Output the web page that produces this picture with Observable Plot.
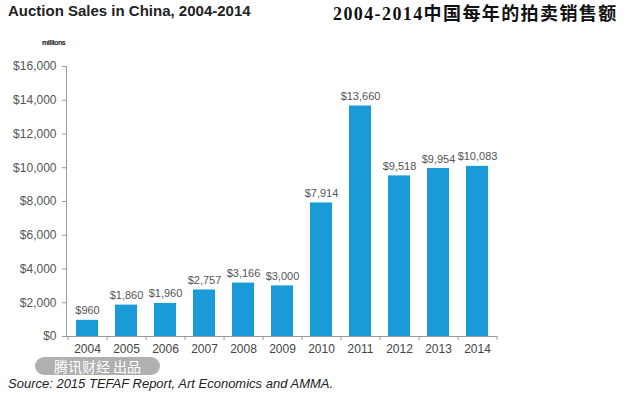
<!DOCTYPE html>
<html>
<head>
<meta charset="utf-8">
<script src="https://cdn.jsdelivr.net/npm/d3@7"></script>
<script src="https://cdn.jsdelivr.net/npm/@observablehq/plot@0.6"></script>
<style>
  html, body { margin: 0; padding: 0; background: #fff; }
  #wrap { position: relative; width: 644px; height: 398px; overflow: hidden; font-family: "Liberation Sans", Arial, sans-serif; }
  #title { position: absolute; left: 8px; top: 2px; font-size: 15px; font-weight: bold; color: #222; }
  #cntitle { position: absolute; left: 333px; top: -1px; font-size: 18px; font-weight: bold; color: #111; letter-spacing: 1.4px; font-family: "Liberation Serif", "Noto Sans CJK SC", serif; }
  #units { position: absolute; left: 42px; top: 39px; font-size: 7px; font-weight: bold; color: #111; letter-spacing: -0.4px; }
  #source { position: absolute; left: 8px; top: 376px; font-size: 13px; line-height: 15px; font-style: italic; color: #222; }
  #wm { position: absolute; left: 35px; top: 357px; width: 125px; height: 18px; border-radius: 9px; background: rgba(150,150,150,0.75); color: #fff; font-family: "Noto Sans CJK SC", sans-serif; font-size: 14px; line-height: 18px; text-align: center; }
  #chart { position: absolute; left: 0; top: 0; }
</style>
</head>
<body>
<div id="wrap">
  <div id="chart"></div>
  <div id="title">Auction Sales in China, 2004-2014</div>
  <div id="cntitle">2004-2014中国每年的拍卖销售额</div>
  <div id="units">millions</div>
  <div id="wm">腾讯财经 出品</div>
  <div id="source">Source: 2015 TEFAF Report, Art Economics and AMMA.</div>
</div>
<script>
const years = ["2004","2005","2006","2007","2008","2009","2010","2011","2012","2013","2014"];
const sales = [960, 1860, 1960, 2757, 3166, 3000, 7914, 13660, 9518, 9954, 10083];
const yTicks = [0, 2000, 4000, 6000, 8000, 10000, 12000, 14000, 16000];

const data = years.map((y, i) => ({year: y, value: sales[i]}));
const fmt = v => "$" + d3.format(",")(v);

const W = 644, H = 398, mL = 66, mR = 147;
const step = (W - mL - mR) / years.length;

const chart = Plot.plot({
  width: W,
  height: H,
  marginLeft: mL,
  marginRight: mR,
  marginTop: 66,
  marginBottom: 62,
  style: {fontFamily: "Liberation Sans, Arial, sans-serif", background: "transparent"},
  x: {domain: years, paddingInner: 0.44, paddingOuter: 0.22, label: null},
  y: {domain: [0, 16000], label: null},
  marks: [
    Plot.frame({anchor: "left", stroke: "#9a9a9a"}),
    Plot.axisY({ticks: yTicks, tickFormat: fmt, tickSize: 4, tickPadding: 6, fontSize: 12, color: "#555", stroke: "#9a9a9a"}),
    Plot.axisX({tickSize: 0, tickPadding: 8, fontSize: 12, color: "#444"}),
    Plot.barY(data, {x: "year", y: "value", fill: "#1a9ad6"}),
    Plot.ruleY([0], {stroke: "#9a9a9a"}),
    Plot.ruleX(years, {x: d => d, y1: 0, y2: -240, dx: step / 2, stroke: "#9a9a9a"}),
    Plot.ruleX(years.slice(0, 1), {x: d => d, y1: 0, y2: -240, dx: -step / 2, stroke: "#9a9a9a"}),
    Plot.text(data, {x: "year", y: "value", text: d => fmt(d.value), fill: "#555", fontSize: 11, lineAnchor: "bottom", dy: -6})
  ]
});
document.getElementById("chart").appendChild(chart);
</script>
</body>
</html>
